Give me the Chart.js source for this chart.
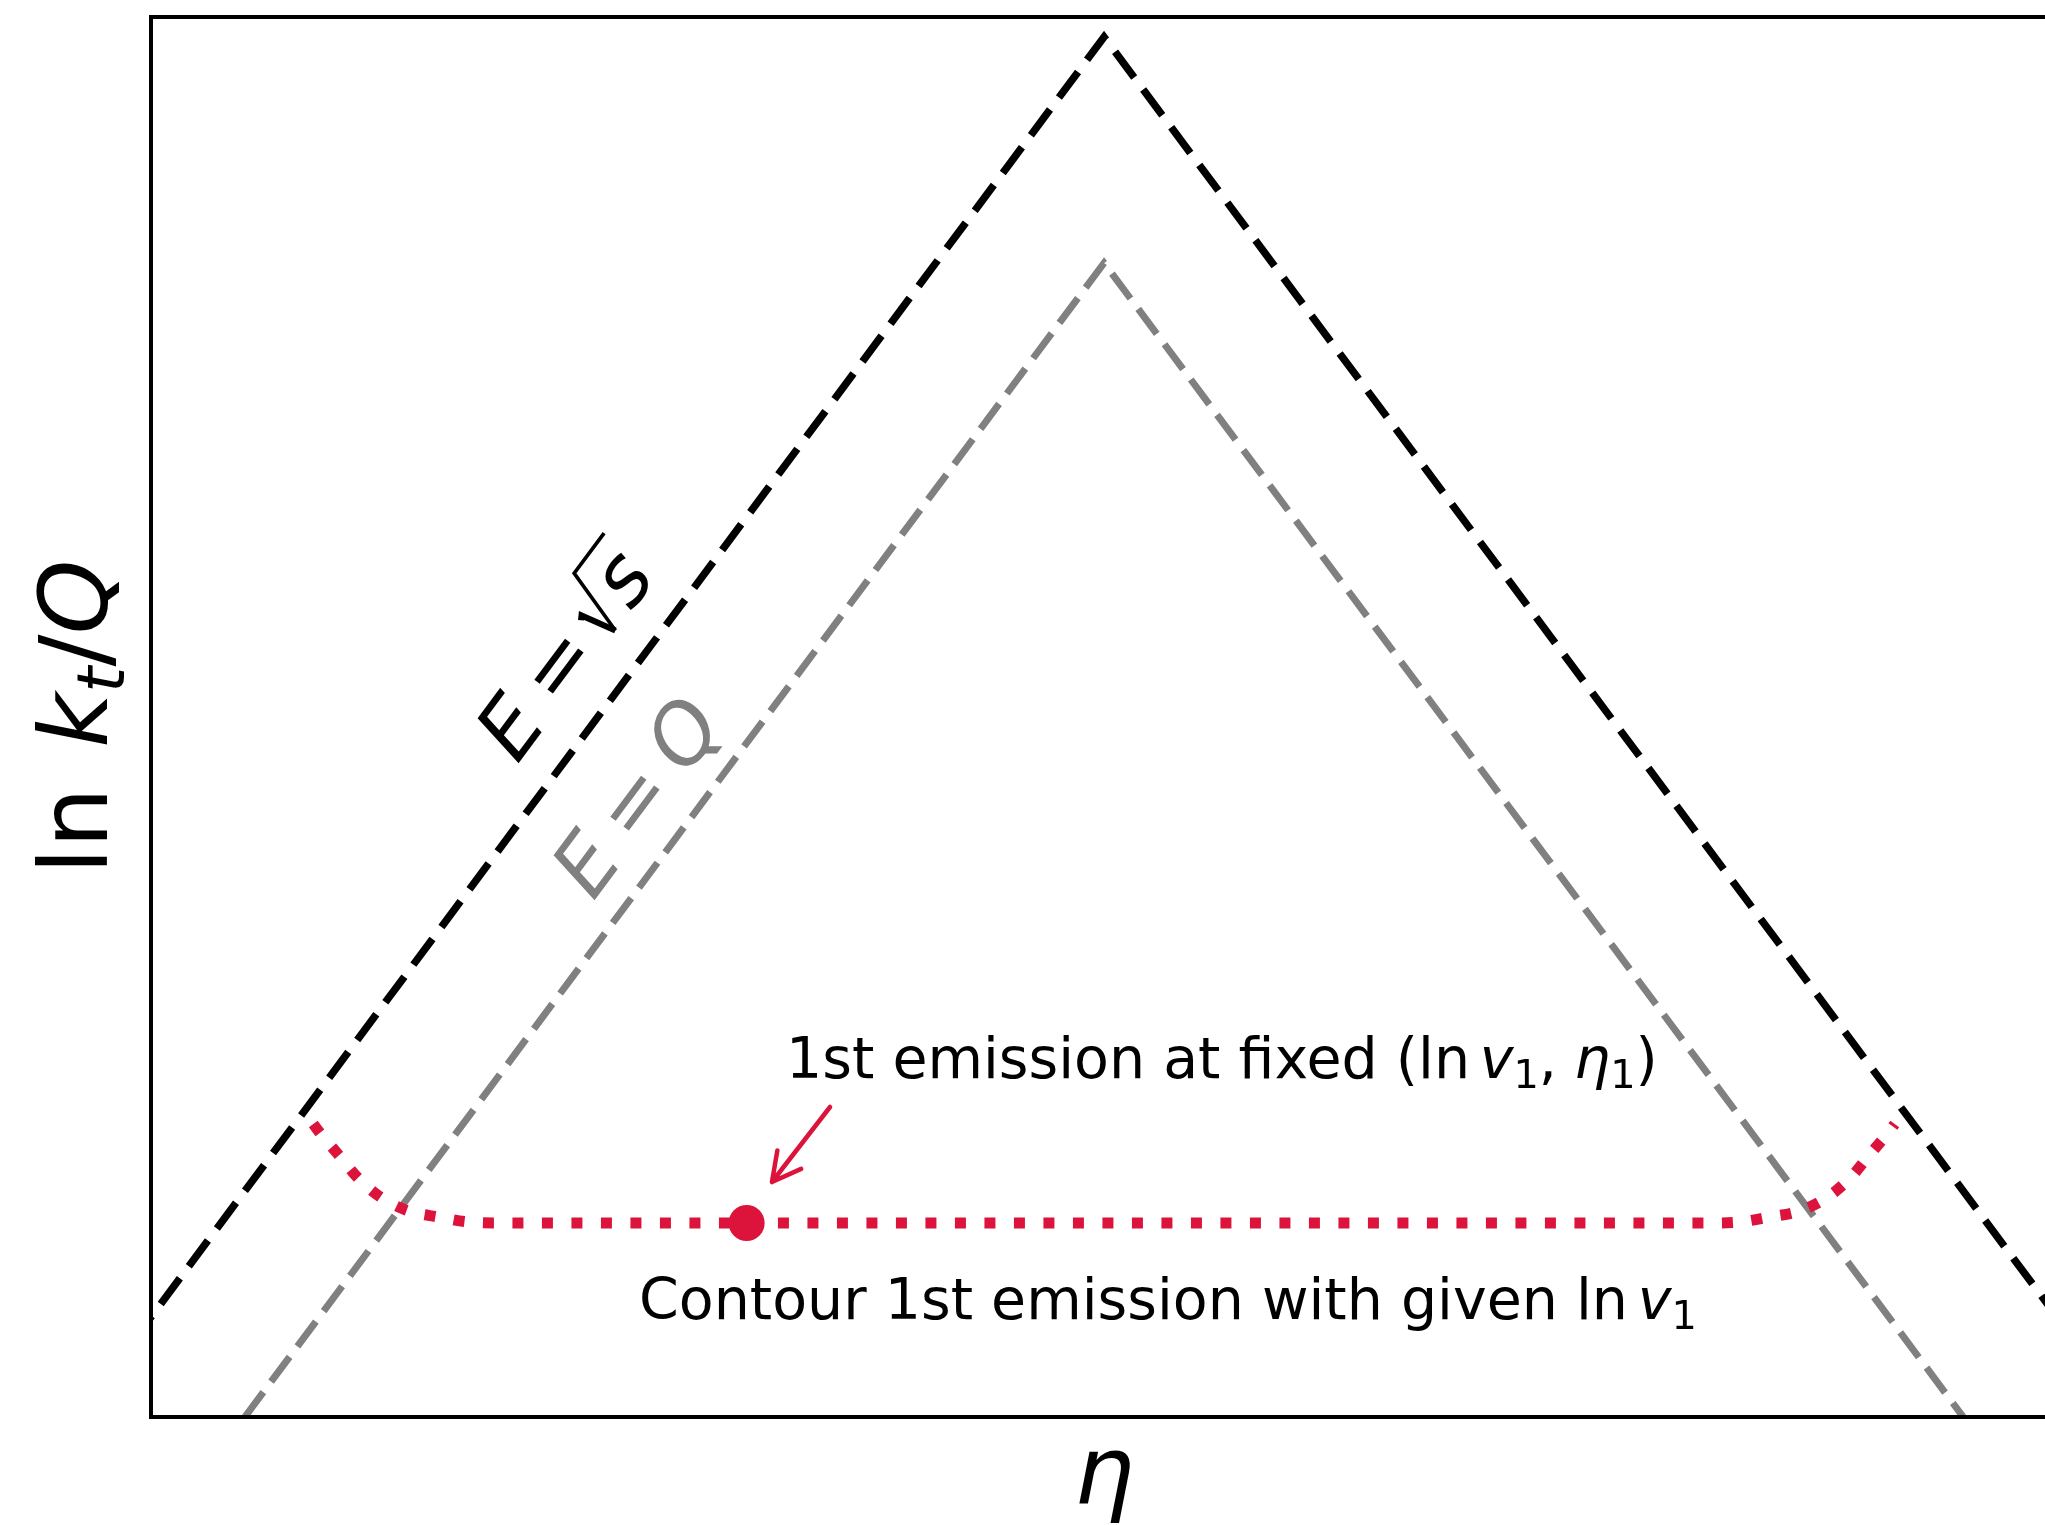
<!DOCTYPE html>
<html>
<head>
<meta charset="utf-8">
<script src="https://cdn.jsdelivr.net/npm/chart.js@4/dist/chart.umd.min.js"></script>
<style>
  html, body { margin: 0; padding: 0; background: #ffffff; overflow: hidden; }
  #wrap { width: 2045px; height: 1525px; }
</style>
</head>
<body>
<div id="wrap"><canvas id="plane" width="2045" height="1525"></canvas></div>
<script>
// Lund-plane sketch: rapidity eta against ln(kt/Q)
// (the right-hand limit of eta sits at the canvas edge; the plot is open on that side)
const etaRange  = [-6.4, 6.319];
const lnktRange = [0, 7];

// kinematic boundary E = sqrt(s)
const etaSqrtS  = [-6.9, 0, 6.9];
const lnktSqrtS = [0, 6.9, 0];

// boundary E = Q
const etaQ  = [-5.77, 0, 5.77];
const lnktQ = [0, 5.77, 0];

// contour of the first emission at fixed ln v1
const etaContour  = [-5.31, -5.27, -5.14, -5.01, -4.86, -4.67, -4.47, -4.27, -4.07, 4.07, 4.27, 4.47, 4.67, 4.86, 5.01, 5.14, 5.27, 5.31];
const lnktContour = [1.465, 1.425, 1.31, 1.195, 1.10, 1.03, 1.00, 0.975, 0.97, 0.97, 0.975, 1.00, 1.03, 1.10, 1.195, 1.31, 1.425, 1.465];

// first emission (ln v1, eta1)
const eta1  = [-2.40];
const lnkt1 = [0.97];

// annotation anchors in data coordinates [eta, ln kt/Q]
const noteFixedAt   = [-2.136, 1.695];
const noteContourAt = [-3.123, 0.49];
const sqrtSLabelAt  = [-3.94, 3.26];
const qLabelAt      = [-3.43, 2.575];
const arrowFrom     = [-1.84, 1.55];
const arrowTo       = [-2.23, 1.175];

const CRIMSON = '#DC143C';
const GRAY = '#808080';
const FAMILY = '"DejaVu Sans"';
const AX_FONT = 95, NOTE_FONT = 57, LINE_FONT = 82;

const pts = (xs, ys) => xs.map((v, i) => ({ x: v, y: ys[i] }));

// text runs: plain, italic, subscript, gaps (in em) and a radical
const yTitleRuns = [{ t: 'ln' }, { gap: 0.42 }, { t: 'k', it: 1 }, { t: 't', it: 1, sub: 1 }, { t: '/' }, { t: 'Q', it: 1 }];
const xTitleRuns = [{ t: 'η', it: 1 }];
const noteFixedRuns = [{ t: '1st emission at fixed ' }, { t: '(ln' }, { gap: 0.17 }, { t: 'v', it: 1 }, { t: '1', sub: 1 },
  { t: ',' }, { gap: 0.3 }, { t: 'η', it: 1 }, { t: '1', sub: 1 }, { t: ')' }];
const noteContourRuns = [{ t: 'Contour 1st emission with given ln' }, { gap: 0.17 }, { t: 'v', it: 1 }, { t: '1', sub: 1 }];
const sqrtSRuns = [{ t: 'E', it: 1 }, { gap: 0.22 }, { t: '=' }, { gap: 0.22 }, { rad: 's' }];
const qRuns = [{ t: 'E', it: 1 }, { gap: 0.22 }, { t: '=' }, { gap: 0.22 }, { t: 'Q', it: 1 }];

function runFont(r, size) {
  const s = r.sub ? size * 0.7 : size;
  return (r.it ? 'italic ' : '') + s + 'px ' + FAMILY;
}
function runWidth(ctx, r, size) {
  if (r.gap) return r.gap * size;
  if (r.rad) {
    ctx.font = runFont({ it: 1 }, size);
    return 0.42 * size + ctx.measureText(r.rad).width + 0.05 * size;
  }
  ctx.font = runFont(r, size);
  return ctx.measureText(r.t).width;
}
function drawRuns(ctx, runs, size, x, y, angle, align, color) {
  ctx.save();
  ctx.translate(x, y);
  ctx.rotate(angle);
  ctx.fillStyle = color;
  ctx.strokeStyle = color;
  ctx.textBaseline = 'alphabetic';
  ctx.textAlign = 'left';
  const total = runs.reduce((s, r) => s + runWidth(ctx, r, size), 0);
  let cx = align === 'center' ? -total / 2 : 0;
  for (const r of runs) {
    const w = runWidth(ctx, r, size);
    if (r.gap) { cx += w; continue; }
    if (r.rad) {
      const em = size;
      ctx.font = runFont({ it: 1 }, size);
      const sw = ctx.measureText(r.rad).width;
      ctx.lineJoin = 'miter';
      // short left arm (heavier stroke)
      ctx.lineWidth = 0.075 * em;
      ctx.beginPath();
      ctx.moveTo(cx - 0.03 * em, -0.43 * em);
      ctx.lineTo(cx + 0.02 * em, -0.46 * em);
      ctx.lineTo(cx + 0.12 * em, -0.02 * em);
      ctx.stroke();
      // long arm and bar over the radicand
      ctx.lineWidth = 0.045 * em;
      ctx.beginPath();
      ctx.moveTo(cx + 0.12 * em, -0.02 * em);
      ctx.lineTo(cx + 0.38 * em, -0.84 * em);
      ctx.lineTo(cx + 0.42 * em + sw + 0.05 * em, -0.84 * em);
      ctx.stroke();
      ctx.fillText(r.rad, cx + 0.42 * em, 0);
      cx += w;
      continue;
    }
    ctx.font = runFont(r, size);
    ctx.fillText(r.t, cx, r.sub ? 0.18 * size : 0);
    cx += w;
  }
  ctx.restore();
}

const decorations = {
  id: 'decorations',
  afterDraw(chart) {
    const { ctx, chartArea: a, scales: { x, y } } = chart;
    const px = p => [x.getPixelForValue(p[0]), y.getPixelForValue(p[1])];

    // axes frame: left, top and bottom spines
    ctx.save();
    ctx.strokeStyle = '#000';
    ctx.lineWidth = 4;
    ctx.lineJoin = 'miter';
    ctx.beginPath();
    ctx.moveTo(a.right + 4, a.top);
    ctx.lineTo(a.left, a.top);
    ctx.lineTo(a.left, a.bottom);
    ctx.lineTo(a.right + 4, a.bottom);
    ctx.stroke();
    ctx.restore();

    // axis titles
    const xMid = (x.getPixelForValue(etaRange[0]) + x.getPixelForValue(0)) / 2 + (x.getPixelForValue(0) - x.getPixelForValue(etaRange[0])) / 2;
    drawRuns(ctx, yTitleRuns, AX_FONT, a.left - 44, (a.top + a.bottom) / 2, -Math.PI / 2, 'center', '#000');
    drawRuns(ctx, xTitleRuns, AX_FONT, xMid, a.bottom + 86, 0, 'center', '#000');

    // labels running along the boundaries
    const ang = Math.atan2(
      y.getPixelForValue(lnktSqrtS[1]) - y.getPixelForValue(lnktSqrtS[0]),
      x.getPixelForValue(etaSqrtS[1]) - x.getPixelForValue(etaSqrtS[0]));
    const s1 = px(sqrtSLabelAt);
    drawRuns(ctx, sqrtSRuns, LINE_FONT, s1[0], s1[1], ang, 'left', '#000');
    const q1 = px(qLabelAt);
    drawRuns(ctx, qRuns, LINE_FONT, q1[0], q1[1], ang, 'left', GRAY);

    // notes
    const n1 = px(noteFixedAt);
    drawRuns(ctx, noteFixedRuns, NOTE_FONT, n1[0], n1[1], 0, 'left', '#000');
    const n2 = px(noteContourAt);
    drawRuns(ctx, noteContourRuns, NOTE_FONT, n2[0], n2[1], 0, 'left', '#000');

    // arrow pointing at the first emission
    const [fx, fy] = px(arrowFrom);
    const [tx, ty] = px(arrowTo);
    const back = Math.atan2(fy - ty, fx - tx);
    const head = 32, spread = 28 * Math.PI / 180;
    ctx.save();
    ctx.strokeStyle = CRIMSON;
    ctx.lineWidth = 4.5;
    ctx.lineCap = 'round';
    ctx.lineJoin = 'round';
    ctx.beginPath();
    ctx.moveTo(fx, fy);
    ctx.lineTo(tx, ty);
    ctx.moveTo(tx + head * Math.cos(back + spread), ty + head * Math.sin(back + spread));
    ctx.lineTo(tx, ty);
    ctx.lineTo(tx + head * Math.cos(back - spread), ty + head * Math.sin(back - spread));
    ctx.stroke();
    ctx.restore();
  }
};

new Chart(document.getElementById('plane'), {
  type: 'scatter',
  data: {
    datasets: [
      {
        label: 'first emission',
        data: pts(eta1, lnkt1),
        showLine: false,
        pointRadius: 18,
        pointBackgroundColor: CRIMSON,
        pointBorderWidth: 0,
        clip: 0
      },
      {
        label: 'contour',
        data: pts(etaContour, lnktContour),
        showLine: true,
        borderColor: CRIMSON,
        borderWidth: 11,
        borderDash: [11, 18.5],
        borderCapStyle: 'butt',
        cubicInterpolationMode: 'monotone',
        pointRadius: 0,
        clip: 0
      },
      {
        label: 'E = Q',
        data: pts(etaQ, lnktQ),
        showLine: true,
        borderColor: GRAY,
        borderWidth: 7,
        borderDash: [31, 13],
        borderCapStyle: 'butt',
        borderJoinStyle: 'miter',
        pointRadius: 0,
        tension: 0,
        clip: 0
      },
      {
        label: 'E = sqrt(s)',
        data: pts(etaSqrtS, lnktSqrtS),
        showLine: true,
        borderColor: '#000000',
        borderWidth: 7.5,
        borderDash: [32, 15],
        borderCapStyle: 'butt',
        borderJoinStyle: 'miter',
        pointRadius: 0,
        tension: 0,
        clip: 0
      }
    ]
  },
  options: {
    responsive: false,
    animation: false,
    devicePixelRatio: 1,
    events: [],
    layout: { autoPadding: false, padding: { left: 151, top: 17, right: 0, bottom: 108 } },
    plugins: { legend: { display: false }, tooltip: { enabled: false } },
    scales: {
      x: { type: 'linear', min: etaRange[0], max: etaRange[1], display: false },
      y: { type: 'linear', min: lnktRange[0], max: lnktRange[1], display: false }
    }
  },
  plugins: [decorations]
});
</script>
</body>
</html>
